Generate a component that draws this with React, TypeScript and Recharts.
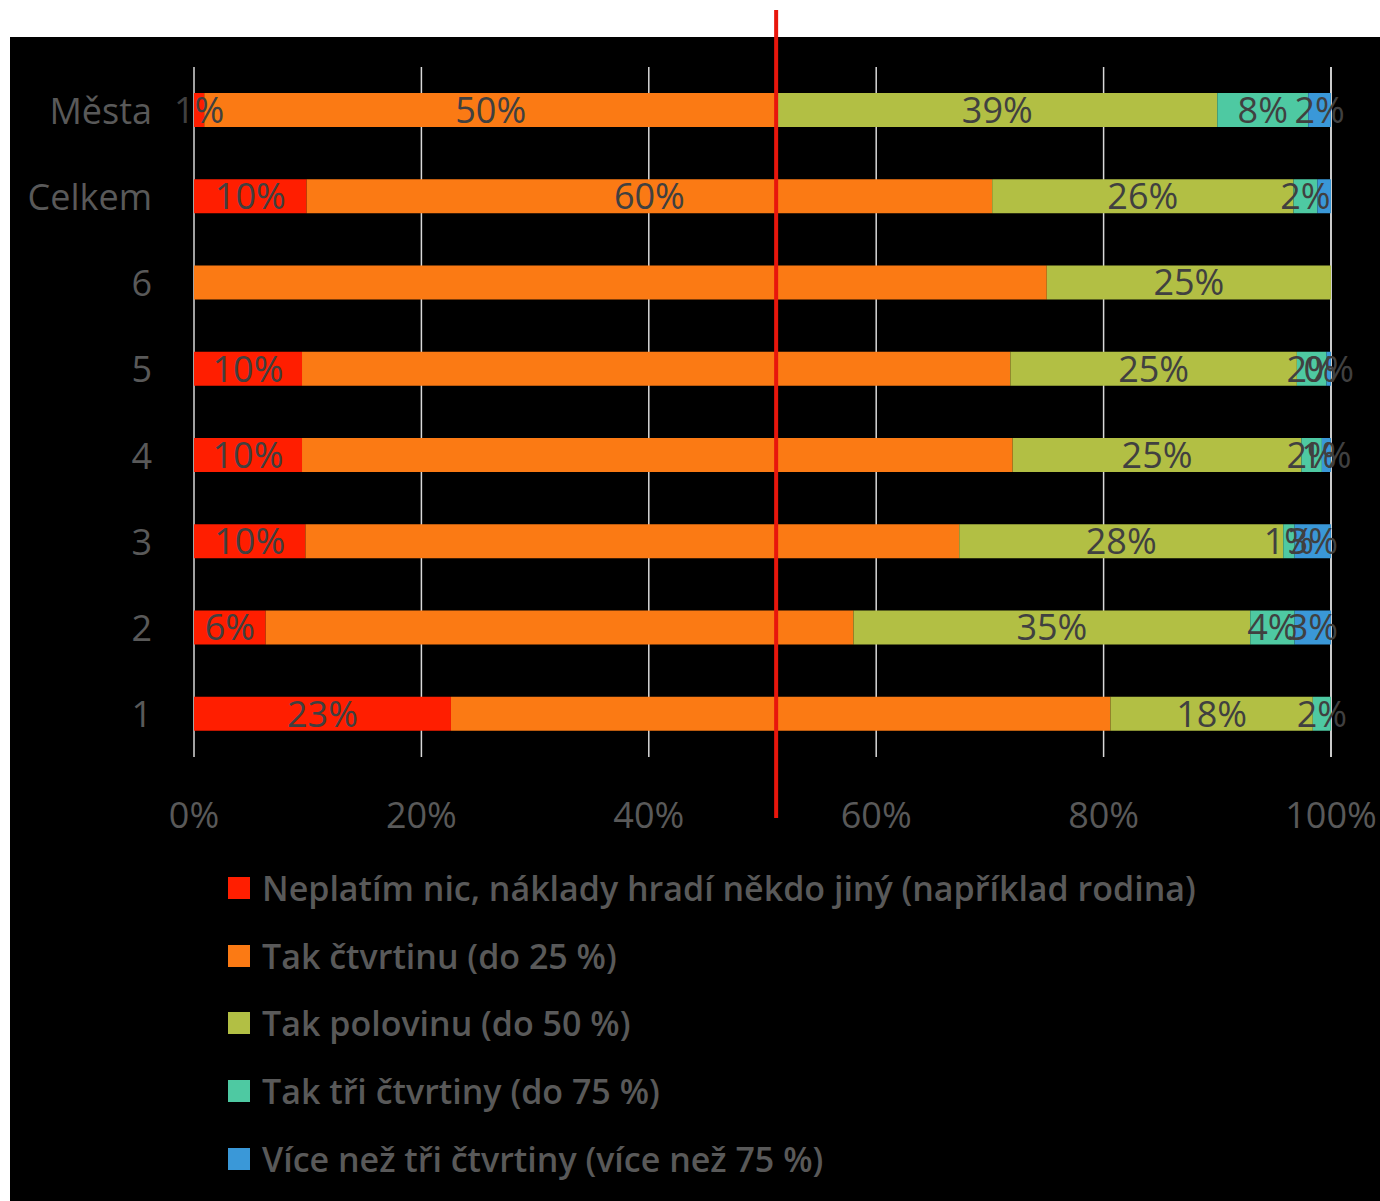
import React from 'react';
import { BarChart, Bar, XAxis, YAxis, CartesianGrid, LabelList, ReferenceLine } from 'recharts';

const categories = ['Města', 'Celkem', '6', '5', '4', '3', '2', '1'];
const seriesNames = [
  'Neplatím nic, náklady hradí někdo jiný (například rodina)',
  'Tak čtvrtinu (do 25 %)',
  'Tak polovinu (do 50 %)',
  'Tak tři čtvrtiny (do 75 %)',
  'Více než tři čtvrtiny (více než 75 %)',
];
const seriesColors = ['#ff1e00', '#fb7a14', '#b2bf44', '#4ec9a2', '#3a98d8'];

const redValues = [0.9, 9.9, 0, 9.5, 9.5, 9.8, 6.3, 22.6];
const orangeValues = [50.4, 60.3, 75, 62.3, 62.5, 57.5, 51.7, 58.0];
const greenValues = [38.7, 26.5, 25, 25.2, 25.4, 28.5, 34.9, 17.8];
const tealValues = [8.0, 2.1, 0, 2.6, 1.8, 1.0, 3.9, 1.6];
const blueValues = [2.0, 1.2, 0, 0.4, 0.8, 3.2, 3.2, 0];

const redLabels = ['1%', '10%', '', '10%', '10%', '10%', '6%', '23%'];
const orangeLabels = ['50%', '60%', '', '', '', '', '', ''];
const greenLabels = ['39%', '26%', '25%', '25%', '25%', '28%', '35%', '18%'];
const tealLabels = ['8%', '2%', '', '2%', '2%', '1%', '4%', '2%'];
const blueLabels = ['2%', '', '', '0%', '1%', '3%', '3%', ''];

const xTicks = [0, 20, 40, 60, 80, 100];
const markerValue = 51.2;

const valueArrays = [redValues, orangeValues, greenValues, tealValues, blueValues];
const labelArrays = [redLabels, orangeLabels, greenLabels, tealLabels, blueLabels];
const keys = ['s0', 's1', 's2', 's3', 's4'];

const data = categories.map((name, i) => {
  const row: any = { name };
  keys.forEach((k, s) => {
    row[k] = valueArrays[s][i];
    row[k + 'l'] = labelArrays[s][i];
  });
  return row;
});

const FONT = '"Open Sans", Lato, sans-serif';
const TICK_COLOR = '#595959';
const LABEL_COLOR = '#404040';

const YTick = (props: any) => {
  const { x, y, payload } = props;
  return (
    <text x={x - 42} y={y} textAnchor="end" dominantBaseline="central" fill={TICK_COLOR} fontSize={36} fontFamily={FONT}>
      {payload.value}
    </text>
  );
};

const XTick = (props: any) => {
  const { x, y, payload } = props;
  return (
    <text x={x} y={y} dy={57} textAnchor="middle" dominantBaseline="central" fill={TICK_COLOR} fontSize={36} fontFamily={FONT}>
      {payload.value + '%'}
    </text>
  );
};

const RedLine = (props: any) => {
  const x = props.x1;
  return <line x1={x} x2={x} y1={10} y2={818} stroke="#e8160c" strokeWidth={4} />;
};

export default function App() {
  return (
    <div style={{ position: 'absolute', left: 0, top: 0, width: 1380, height: 1201, background: '#fff' }}>
      <div style={{ position: 'absolute', left: 10, top: 37, width: 1370, height: 1164, background: '#000' }} />
      <div style={{ position: 'absolute', left: 0, top: 0 }}>
        <BarChart
          width={1380}
          height={1201}
          data={data}
          layout="vertical"
          margin={{ top: 67, right: 49, bottom: 384, left: 0 }}
          barSize={34}
        >
          <CartesianGrid horizontal={false} vertical stroke="#d9d9d9" strokeWidth={1.5} />
          <XAxis
            type="number"
            domain={[0, 100]}
            ticks={xTicks}
            axisLine={false}
            tickLine={false}
            tickSize={0}
            tickMargin={0}
            tick={<XTick />}
            height={60}
            interval={0}
          />
          <YAxis
            type="category"
            dataKey="name"
            width={194}
            axisLine={false}
            tickLine={false}
            tickSize={0}
            tickMargin={0}
            tick={<YTick />}
            interval={0}
          />
          {keys.map((k, s) => (
            <Bar key={k} dataKey={k} stackId="a" fill={seriesColors[s]} isAnimationActive={false} name={seriesNames[s]}>
              <LabelList dataKey={k + 'l'} position="center" fill={LABEL_COLOR} fontSize={36} fontFamily={FONT} />
            </Bar>
          ))}
          <ReferenceLine x={markerValue} ifOverflow="visible" shape={<RedLine />} />
        </BarChart>
      </div>
      <div style={{ position: 'absolute', left: 228, top: 854, fontFamily: FONT }}>
        {seriesNames.map((n, i) => (
          <div key={n} style={{ display: 'flex', alignItems: 'center', height: 67.75 }}>
            <div style={{ width: 22, height: 22, background: seriesColors[i], marginRight: 12 }} />
            <span style={{ color: TICK_COLOR, fontSize: 34, fontWeight: 600, whiteSpace: 'nowrap' }}>{n}</span>
          </div>
        ))}
      </div>
    </div>
  );
}
